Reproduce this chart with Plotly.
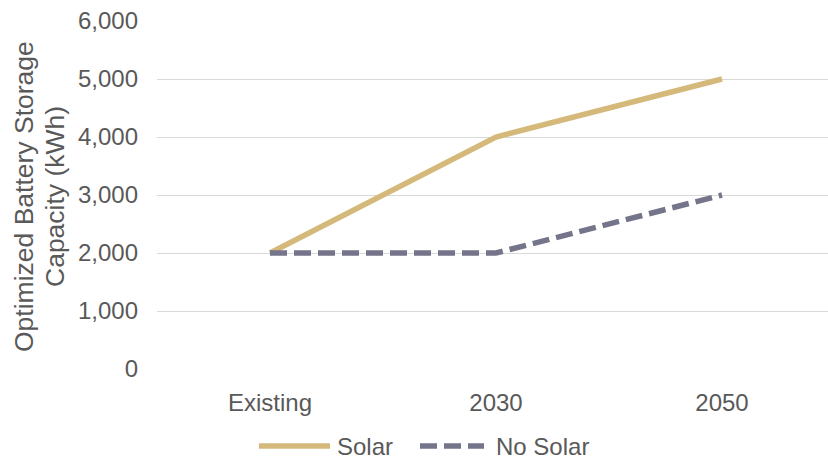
import plotly.graph_objects as go

# Scenario periods and optimized storage capacity (kWh)
periods = ["Existing", "2030", "2050"]
solar_kwh = [2000, 4000, 5000]
no_solar_kwh = [2000, 2000, 3000]
y_ticks = [0, 1000, 2000, 3000, 4000, 5000, 6000]

SOLAR_COLOR = "#D5B97B"
NO_SOLAR_COLOR = "#74748A"
TEXT_COLOR = "#595959"
GRID_COLOR = "#D9D9D9"
FONT = "Liberation Sans, Arial, sans-serif"

W, H = 828, 459
L, R, T, B = 157, 0, 21, 90
PW, PH = W - L - R, H - T - B


def px_x(p):
    return (p - L) / PW


def px_y(p):
    return (H - B - p) / PH


fig = go.Figure()
fig.add_trace(go.Scatter(
    x=periods, y=solar_kwh, mode="lines", name="Solar",
    line=dict(color=SOLAR_COLOR, width=5.5), showlegend=False,
))
fig.add_trace(go.Scatter(
    x=periods, y=no_solar_kwh, mode="lines", name="No Solar",
    line=dict(color=NO_SOLAR_COLOR, width=5.5, dash="17px,7px"), showlegend=False,
))

# Legend drawn below the plot
legend_y = px_y(446)
shapes = [
    dict(type="line", xref="paper", yref="paper",
         x0=px_x(259), x1=px_x(330), y0=legend_y, y1=legend_y,
         line=dict(color=SOLAR_COLOR, width=5.5)),
    dict(type="line", xref="paper", yref="paper",
         x0=px_x(420), x1=px_x(484), y0=legend_y, y1=legend_y,
         line=dict(color=NO_SOLAR_COLOR, width=5.5, dash="17px,7px")),
]
annotations = [
    dict(text="Solar", xref="paper", yref="paper", x=px_x(335), y=legend_y,
         xanchor="left", yanchor="middle", showarrow=False,
         font=dict(size=24, color=TEXT_COLOR, family=FONT)),
    dict(text="No Solar", xref="paper", yref="paper", x=px_x(494), y=legend_y,
         xanchor="left", yanchor="middle", showarrow=False,
         font=dict(size=24, color=TEXT_COLOR, family=FONT)),
]

# Two-line vertical axis title
title_lines = ["Optimized Battery Storage", "Capacity (kWh)"]
for line_text, cx in zip(title_lines, [24, 55]):
    annotations.append(dict(
        text=line_text, xref="paper", yref="paper", x=px_x(cx), y=px_y(197),
        textangle=-90, xanchor="center", yanchor="middle", showarrow=False,
        font=dict(size=26.5, color=TEXT_COLOR, family=FONT),
    ))

fig.update_layout(
    width=W, height=H,
    margin=dict(l=L, r=R, t=T, b=B, pad=0),
    paper_bgcolor="white", plot_bgcolor="white",
    font=dict(family=FONT, size=24, color=TEXT_COLOR),
    shapes=shapes, annotations=annotations,
    showlegend=False,
)
fig.update_xaxes(
    type="category", range=[-0.5, 2.469],
    showgrid=False, zeroline=False, showline=False,
    ticks="", ticklabelstandoff=17,
    tickfont=dict(size=24, color=TEXT_COLOR, family=FONT),
)
fig.update_yaxes(
    range=[0, 6000], tickvals=y_ticks, tickformat=",",
    showgrid=True, gridcolor=GRID_COLOR, gridwidth=1.3,
    zeroline=False, showline=False, ticks="", ticklabelstandoff=18,
    tickfont=dict(size=24, color=TEXT_COLOR, family=FONT),
)

fig.write_html("out.html")
